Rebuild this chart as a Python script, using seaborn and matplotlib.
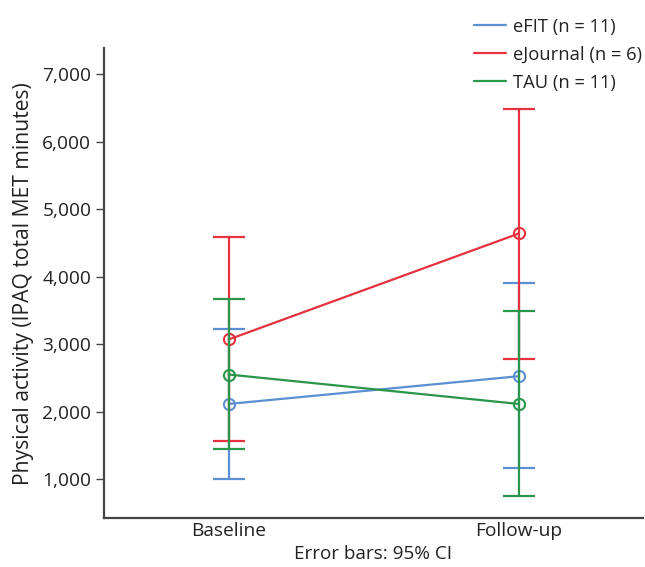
import pandas as pd
import matplotlib
matplotlib.use("Agg")
import matplotlib.pyplot as plt
import seaborn as sns

# Data
timepoints = ["Baseline", "Follow-up"]
groups = ["eFIT (n = 11)", "eJournal (n = 6)", "TAU (n = 11)"]
means = {
    "eFIT (n = 11)": [2115, 2526],
    "eJournal (n = 6)": [3070, 4640],
    "TAU (n = 11)": [2551, 2115],
}
ci_low = {
    "eFIT (n = 11)": [1005, 1159],
    "eJournal (n = 6)": [1567, 2782],
    "TAU (n = 11)": [1455, 753],
}
ci_high = {
    "eFIT (n = 11)": [3222, 3908],
    "eJournal (n = 6)": [4581, 6486],
    "TAU (n = 11)": [3677, 3493],
}
colors = ["#5b8fd2", "#e6323f", "#2a964a"]

# Long format table for seaborn
rows = []
for g in groups:
    for i, t in enumerate(timepoints):
        rows.append({"x": i, "time": t, "group": g, "mean": means[g][i],
                     "lo": ci_low[g][i], "hi": ci_high[g][i]})
df = pd.DataFrame(rows)

sns.set_style("white")
plt.rcParams["font.family"] = ["Open Sans", "DejaVu Sans"]

fig = plt.figure(figsize=(6.45, 5.67), dpi=100)
ax = fig.add_axes([0.161, 0.086, 0.836, 0.829])

# Draw each group: error bars then mean line
for g, c in zip(groups, colors):
    sub = df[df["group"] == g]
    ax.errorbar(sub["x"], sub["mean"],
                yerr=[sub["mean"] - sub["lo"], sub["hi"] - sub["mean"]],
                fmt="none", ecolor=c, elinewidth=1.6, capsize=11.5, capthick=1.6)
    sns.lineplot(data=sub, x="x", y="mean", color=c, linewidth=1.6,
                 marker="o", markersize=8, markerfacecolor="none",
                 markeredgecolor=c, markeredgewidth=1.5, ax=ax,
                 label=g, legend=False)

ax.set_xlim(-0.43, 1.428)
ax.set_ylim(422, 7385)
ax.set_xticks(range(len(timepoints)))
ax.set_xticklabels(timepoints)
ax.set_yticks([1000, 2000, 3000, 4000, 5000, 6000, 7000])
ax.set_yticklabels([f"{v:,}" for v in [1000, 2000, 3000, 4000, 5000, 6000, 7000]])
ax.tick_params(axis="y", left=True, length=6, width=1, color="#444444",
               labelsize=13.8, pad=3, labelcolor="#222222")
ax.tick_params(axis="x", bottom=False, length=0, labelsize=13.8, pad=3,
               labelcolor="#222222")

ax.set_xlabel("Error bars: 95% CI", fontsize=13.6, color="#222222", labelpad=3)
ax.set_ylabel("Physical activity (IPAQ total MET minutes)", fontsize=15.2,
              color="#222222", labelpad=6)

for side in ["top", "right"]:
    ax.spines[side].set_visible(False)
for side in ["left", "bottom"]:
    ax.spines[side].set_color("#444444")
    ax.spines[side].set_linewidth(1.6)

# Legend with plain line handles
handles = [plt.Line2D([], [], color=c, linewidth=1.6) for c in colors]
fig.legend(handles, groups, loc="upper left", bbox_to_anchor=(0.735, 0.969),
           frameon=False, fontsize=13.2, handlelength=1.75, handletextpad=0.4,
           labelspacing=0.55, borderpad=0, borderaxespad=0,
           labelcolor="#222222")

fig.savefig("out.png", dpi=100)
